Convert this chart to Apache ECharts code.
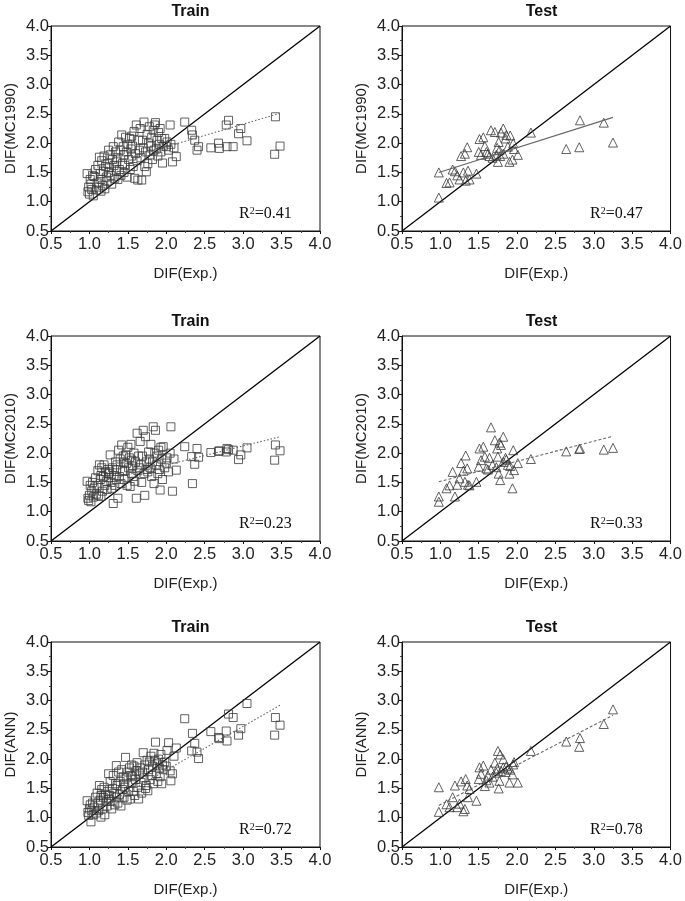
<!DOCTYPE html>
<html>
<head>
<meta charset="utf-8">
<script src="https://cdn.jsdelivr.net/npm/echarts@6/dist/echarts.min.js"></script>
<style>html,body{margin:0;padding:0;background:#fff}#c{width:685px;height:901px}</style>
</head>
<body>
<div id="c"></div>
<script>
// ---------- data ----------
const trainX = [
 0.97,0.98,0.99,1.00,1.01,1.02,1.03,1.04,1.05,
 1.06,1.08,1.09,1.10,1.11,1.12,1.13,1.14,1.15,1.15,
 1.16,1.17,1.18,1.19,1.20,1.21,1.22,1.23,1.24,1.25,1.25,
 1.26,1.27,1.28,1.29,1.30,1.31,1.32,1.33,1.34,1.35,1.35,
 1.36,1.37,1.38,1.39,1.40,1.41,1.42,1.43,1.44,1.45,1.45,
 1.46,1.47,1.48,1.49,1.50,1.51,1.52,1.53,1.54,1.55,1.55,
 1.56,1.57,1.58,1.59,1.60,1.61,1.62,1.63,1.64,1.65,
 1.66,1.67,1.68,1.69,1.70,1.71,1.72,1.73,1.74,1.75,
 1.76,1.77,1.78,1.79,1.80,1.81,1.82,1.83,1.84,1.85,
 1.86,1.87,1.88,1.89,1.90,1.91,1.92,1.93,1.94,1.95,
 1.96,1.98,2.00,2.01,2.03,2.05,2.06,2.08,2.10,2.13,
 2.24,2.33,2.34,2.37,2.40,2.42,2.58,2.68,2.69,2.78,2.79,2.81,2.87,2.94,2.97,3.05,3.41,3.42,3.48
];
const trainMC1990 = [
 1.48,1.17,1.25,1.13,1.38,1.30,1.21,1.45,1.10,
 1.43,1.55,1.20,1.32,1.62,1.25,1.76,1.48,1.18,1.38,
 1.70,1.28,1.52,1.78,1.22,1.60,1.42,1.35,1.65,1.50,1.88,
 1.58,1.80,1.45,1.30,1.72,1.94,1.62,1.40,1.85,1.52,1.68,
 1.75,1.38,2.02,1.55,1.88,1.45,2.14,1.65,1.94,1.80,1.50,
 1.62,2.10,1.85,1.42,1.98,1.72,2.08,1.55,1.90,1.78,2.12,
 1.95,1.60,2.20,1.40,1.82,2.31,1.70,1.37,2.05,1.88,
 2.25,1.75,1.37,2.05,1.92,2.36,1.60,1.85,1.51,2.15,
 1.65,2.00,2.28,1.80,1.95,2.10,1.72,2.22,1.88,2.31,
 2.35,1.90,2.05,1.78,2.18,1.98,2.25,1.85,2.08,1.66,
 1.95,2.08,1.94,2.02,1.88,2.31,1.98,1.68,1.92,1.77,
 2.36,2.22,2.14,2.05,1.88,1.94,1.92,2.00,1.91,2.31,1.94,2.39,1.94,2.16,2.25,2.04,1.81,2.45,1.95
];
const trainMC2010 = [
 1.52,1.23,1.19,1.28,1.45,1.17,1.35,1.50,1.25,
 1.40,1.58,1.30,1.45,1.70,1.28,1.80,1.55,1.26,1.62,
 1.75,1.35,1.60,1.80,1.45,1.68,1.52,1.38,1.72,1.58,1.65,
 1.68,1.97,1.50,1.40,1.75,1.14,1.62,1.45,1.85,1.55,1.72,
 1.80,1.23,2.05,1.60,1.90,1.48,2.14,1.70,1.95,1.85,1.55,
 1.70,1.97,1.82,1.45,2.10,1.75,1.92,1.43,2.15,1.65,1.88,
 1.78,1.60,2.00,1.52,1.85,1.23,2.34,1.70,1.95,1.75,
 2.20,1.80,1.50,1.95,2.39,1.65,1.28,2.28,1.85,1.72,
 1.68,2.02,1.90,1.75,2.15,1.60,1.85,2.45,1.48,2.00,
 2.39,1.80,1.95,1.65,2.05,1.72,1.37,2.10,1.90,1.55,
 2.11,1.75,1.83,1.92,1.68,2.00,2.45,1.35,1.90,1.71,
 2.11,1.94,1.48,1.81,2.08,1.93,2.01,2.03,2.04,2.02,2.08,2.06,2.05,1.89,1.97,2.09,1.88,2.14,2.04
];
const trainANN = [
 1.29,1.09,1.04,1.15,1.22,0.93,1.12,1.25,1.05,
 1.18,1.35,1.08,1.42,1.25,1.12,1.55,1.30,1.01,1.38,
 1.48,1.15,1.35,1.52,1.05,1.40,1.28,1.20,1.45,1.32,1.75,
 1.38,1.62,1.28,1.15,1.50,1.72,1.42,1.22,1.58,1.35,1.89,
 1.55,1.25,1.78,1.40,1.62,1.20,1.82,1.48,1.70,1.58,1.35,
 1.52,2.03,1.68,1.30,1.78,1.45,1.85,1.32,1.72,1.60,1.90,
 1.70,1.45,1.88,1.38,1.65,1.80,1.94,1.52,1.32,1.75,
 1.85,1.60,1.42,1.78,2.11,1.68,1.90,1.50,1.55,1.98,
 1.46,1.82,1.95,1.65,2.05,1.72,1.88,1.58,2.10,1.98,
 2.29,1.75,1.92,1.62,2.00,1.85,1.70,2.08,1.58,1.90,
 1.82,1.95,1.88,2.15,2.28,1.80,1.63,1.75,2.05,2.19,
 2.69,2.14,2.44,2.27,2.12,2.01,2.47,2.37,2.35,2.48,2.31,2.77,2.71,2.41,2.52,2.95,2.41,2.71,2.58
];
const testX = [
 0.98,0.98,1.08,1.12,1.16,1.19,1.22,1.25,1.27,1.30,1.32,1.33,1.35,1.36,1.38,
 1.47,1.50,1.51,1.53,1.56,1.58,1.60,1.62,1.64,1.66,1.68,1.71,1.73,1.74,1.75,
 1.76,1.77,1.78,1.79,1.82,1.82,1.85,1.86,1.88,1.90,1.91,1.94,1.95,1.96,2.01,
 2.18,2.64,2.81,2.82,3.13,3.25
];
const testMC1990 = [
 1.50,1.07,1.32,1.33,1.55,1.52,1.45,1.38,1.78,1.50,1.82,1.36,1.93,1.53,1.38,
 1.48,1.85,2.07,1.80,2.10,1.95,1.85,1.82,1.78,2.22,1.75,2.19,1.80,1.92,1.68,
 2.02,1.88,1.78,2.18,2.25,1.82,2.08,2.14,1.94,1.68,2.13,1.72,2.00,1.90,1.80,
 2.18,1.90,1.93,2.39,2.35,2.01
];
const testMC2010 = [
 1.26,1.17,1.40,1.45,1.68,1.26,1.46,1.57,1.83,1.70,1.51,1.96,1.74,1.46,1.45,
 1.51,1.77,2.08,1.88,2.11,1.94,1.74,1.72,1.92,2.44,1.80,2.22,1.76,2.08,1.94,
 1.65,2.18,1.54,2.14,2.28,1.85,1.92,1.89,1.80,1.65,1.78,1.40,2.05,1.71,1.83,
 1.90,2.03,2.07,2.08,2.06,2.09
];
const testANN = [
 1.52,1.10,1.23,1.18,1.35,1.55,1.18,1.24,1.62,1.11,1.15,1.66,1.55,1.35,1.49,
 1.29,1.66,1.86,1.75,1.89,1.54,1.64,1.72,1.60,1.82,1.70,1.94,1.77,1.84,2.14,
 1.50,1.63,2.08,1.80,2.00,1.86,1.78,1.88,1.84,1.60,1.82,1.74,1.91,1.95,1.60,
 2.14,2.30,2.21,2.36,2.60,2.85
];
// fitted trend lines (end points)
const trainFitX = [0.97, 3.48];
const testFitX = [0.98, 3.25];
const fitTrainMC1990 = [1.54, 2.51];
const fitTestMC1990 = [1.50, 2.44];
const fitTrainMC2010 = [1.46, 2.28];
const fitTestMC2010 = [1.51, 2.29];
const fitTrainANN = [1.04, 2.92];
const fitTestANN = [1.21, 2.75];
const diagonal = [0.5, 4.0];
const panelTitles = ['Train','Test','Train','Test','Train','Test'];
const yNames = ['DIF(MC1990)','DIF(MC1990)','DIF(MC2010)','DIF(MC2010)','DIF(ANN)','DIF(ANN)'];
const xName = 'DIF(Exp.)';
const r2Values = ['0.41','0.47','0.23','0.33','0.72','0.78'];
const axisMin = 0.5, axisMax = 4.0, axisStep = 0.5;

// ---------- layout ----------
const cols = [51, 402];
const rows = [26, 336, 642];
const gw = 269, gh = 205;

const panels = [
  {x: trainX, y: trainMC1990, fx: trainFitX, fy: fitTrainMC1990, sym: 'rect', size: 8, fitType: [1.5, 2]},
  {x: testX, y: testMC1990, fx: testFitX, fy: fitTestMC1990, sym: 'triangle', size: 9, fitType: 'solid'},
  {x: trainX, y: trainMC2010, fx: trainFitX, fy: fitTrainMC2010, sym: 'rect', size: 8, fitType: [1.5, 2]},
  {x: testX, y: testMC2010, fx: testFitX, fy: fitTestMC2010, sym: 'triangle', size: 9, fitType: [3, 2]},
  {x: trainX, y: trainANN, fx: trainFitX, fy: fitTrainANN, sym: 'rect', size: 8, fitType: [1.5, 2]},
  {x: testX, y: testANN, fx: testFitX, fy: fitTestANN, sym: 'triangle', size: 9, fitType: [3, 2]}
];

const grids = [], xAxes = [], yAxes = [], series = [], titles = [];
const sans = 'Liberation Sans, Arial, sans-serif';
const serif = 'Liberation Serif, Times New Roman, serif';
const tickFont = {fontFamily: sans, fontSize: 16.5, color: '#222'};
const nameFont = {fontFamily: sans, fontSize: 15, color: '#222'};

panels.forEach((p, i) => {
  const left = cols[i % 2], top = rows[Math.floor(i / 2)];
  grids.push({left: left, top: top, width: gw, height: gh, show: true, borderColor: '#111', borderWidth: 1, backgroundColor: 'transparent'});
  const axisCommon = {
    min: axisMin, max: axisMax, interval: axisStep, gridIndex: i,
    axisLine: {show: true, onZero: false, lineStyle: {color: '#111', width: 1}},
    axisTick: {show: true, length: 3, lineStyle: {color: '#111'}},
    minorTick: {show: true, splitNumber: 2, length: 2, lineStyle: {color: '#444'}},
    splitLine: {show: false},
    nameLocation: 'middle',
    nameTextStyle: nameFont
  };
  xAxes.push(Object.assign({}, axisCommon, {type: 'value', name: xName, nameGap: 35,
    axisLabel: Object.assign({formatter: v => v.toFixed(1), margin: 5}, tickFont)}));
  yAxes.push(Object.assign({}, axisCommon, {type: 'value', name: yNames[i], nameGap: 33,
    axisLabel: Object.assign({formatter: v => v.toFixed(1), margin: 2}, tickFont)}));

  series.push({
    type: 'scatter', xAxisIndex: i, yAxisIndex: i,
    data: p.x.map((v, k) => [v, p.y[k]]).filter(d => d[1] !== undefined),
    symbol: p.sym, symbolSize: p.size,
    itemStyle: {color: 'rgba(255,255,255,0)', borderColor: '#3a3a3a', borderWidth: 1},
    silent: true, z: 3
  });
  series.push({
    type: 'line', xAxisIndex: i, yAxisIndex: i,
    data: [[diagonal[0], diagonal[0]], [diagonal[1], diagonal[1]]],
    symbol: 'none', lineStyle: {color: '#000', width: 1.3}, silent: true, z: 2
  });
  series.push({
    type: 'line', xAxisIndex: i, yAxisIndex: i,
    data: p.fx.map((v, k) => [v, p.fy[k]]),
    symbol: 'none', lineStyle: {color: '#666', width: 1.1, type: p.fitType}, silent: true, z: 4
  });

  titles.push({
    text: panelTitles[i], left: left + gw / 2, top: top - 27, textAlign: 'center',
    textStyle: {fontFamily: sans, fontSize: 16, fontWeight: 'bold', color: '#111'}
  });
  titles.push({
    text: '{a|R}{b|2}{a|=' + r2Values[i] + '}',
    left: left + 183, top: top + gh - 30,
    textStyle: {
      fontWeight: 'normal',
      rich: {
        a: {fontFamily: serif, fontSize: 16, fontWeight: 'normal', color: '#111'},
        b: {fontFamily: serif, fontSize: 10, fontWeight: 'normal', color: '#111', verticalAlign: 'top', padding: [0, 0, 6, 0]}
      }
    }
  });
});

const chart = echarts.init(document.getElementById('c'), null, {renderer: 'canvas'});
chart.setOption({
  animation: false,
  backgroundColor: '#fff',
  title: titles,
  grid: grids,
  xAxis: xAxes,
  yAxis: yAxes,
  series: series
});
</script>
</body>
</html>
